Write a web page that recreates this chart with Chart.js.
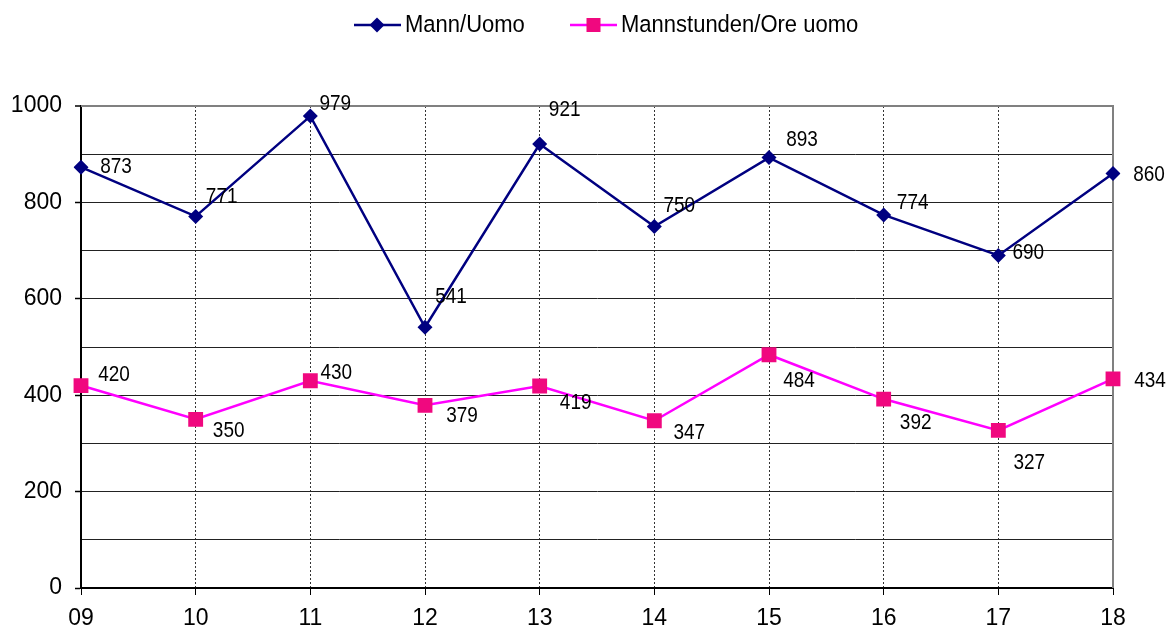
<!DOCTYPE html>
<html>
<head>
<meta charset="utf-8">
<script src="https://cdn.jsdelivr.net/npm/chart.js@4/dist/chart.umd.min.js"></script>
<style>
html,body{margin:0;padding:0;background:#fff;}
canvas{display:block;}
</style>
</head>
<body>
<canvas id="c" width="1169" height="633"></canvas>
<script>
const categories = ['09','10','11','12','13','14','15','16','17','18'];
const seriesNames = ['Mann/Uomo', 'Mannstunden/Ore uomo'];
const mannValues = [873, 771, 979, 541, 921, 750, 893, 774, 690, 860];
const stundenValues = [420, 350, 430, 379, 419, 347, 484, 392, 327, 434];
const yTickLabels = [0, 200, 400, 600, 800, 1000];

// label placement offsets relative to each point (style only)
const mannLabelOffsets = [[35,0],[26,-19],[25,-12],[26,-30],[25,-34],[25,-20],[33,-17],[29,-12],[30,-2],[36,2]];
const stundenLabelOffsets = [[33,-10],[33,12],[26,-8],[37,11],[36,17],[35,12],[30,26],[32,24],[31,33],[37,2]];

const FONT = '"Liberation Sans", Arial, sans-serif';
const BLUE = '#000080';
const PINK_LINE = '#ff00ff';
const PINK_MARK = '#f0087f';

function stretchedText(ctx, text, x, y, sy) {
  ctx.save();
  ctx.translate(x, y);
  ctx.scale(1, sy);
  ctx.fillText(text, 0, 0);
  ctx.restore();
}

const labelPlugin = {
  id: 'valueLabels',
  afterDatasetsDraw(chart) {
    const ctx = chart.ctx;
    ctx.save();
    ctx.font = '19px ' + FONT;
    ctx.fillStyle = '#000';
    ctx.textAlign = 'center';
    ctx.textBaseline = 'middle';
    const offs = [mannLabelOffsets, stundenLabelOffsets];
    chart.data.datasets.forEach((ds, di) => {
      const meta = chart.getDatasetMeta(di);
      meta.data.forEach((pt, i) => {
        const o = offs[di][i];
        stretchedText(ctx, String(ds.data[i]), pt.x + o[0], pt.y + o[1], 1.13);
      });
    });
    ctx.restore();
  }
};

const framePlugin = {
  id: 'frame',
  beforeDatasetsDraw(chart) {
    const {ctx, chartArea: a} = chart;
    ctx.save();
    ctx.strokeStyle = '#808080';
    ctx.lineWidth = 2;
    ctx.beginPath();
    ctx.moveTo(a.left, a.top);
    ctx.lineTo(a.right, a.top);
    ctx.lineTo(a.right, a.bottom);
    ctx.stroke();
    ctx.restore();
  }
};

const legendPlugin = {
  id: 'customLegend',
  afterDraw(chart) {
    const ctx = chart.ctx;
    ctx.save();
    const y = 25;
    ctx.font = '22px ' + FONT;
    ctx.textBaseline = 'middle';
    ctx.textAlign = 'left';
    // item 1
    ctx.strokeStyle = BLUE; ctx.lineWidth = 2.5;
    ctx.beginPath(); ctx.moveTo(354, y); ctx.lineTo(401, y); ctx.stroke();
    ctx.fillStyle = BLUE;
    ctx.beginPath(); ctx.moveTo(377, y-7.5); ctx.lineTo(384.5, y); ctx.lineTo(377, y+7.5); ctx.lineTo(369.5, y); ctx.closePath(); ctx.fill();
    ctx.fillStyle = '#000';
    stretchedText(ctx, seriesNames[0], 405, y+1, 1.07);
    // item 2
    ctx.strokeStyle = PINK_LINE; ctx.lineWidth = 2.5;
    ctx.beginPath(); ctx.moveTo(570, y); ctx.lineTo(617, y); ctx.stroke();
    ctx.fillStyle = PINK_MARK;
    ctx.fillRect(586.5, y-7, 14, 14);
    ctx.fillStyle = '#000';
    stretchedText(ctx, seriesNames[1], 621, y+1, 1.07);
    ctx.restore();
  }
};

new Chart(document.getElementById('c'), {
  type: 'line',
  data: {
    labels: categories,
    datasets: [
      {
        label: seriesNames[0],
        data: mannValues,
        borderColor: BLUE,
        backgroundColor: BLUE,
        borderWidth: 2.5,
        pointStyle: 'rectRot',
        pointRadius: 7.5,
        pointBorderWidth: 0,
        pointBackgroundColor: BLUE,
        tension: 0
      },
      {
        label: seriesNames[1],
        data: stundenValues,
        borderColor: PINK_LINE,
        backgroundColor: PINK_MARK,
        borderWidth: 2.5,
        pointStyle: 'rect',
        pointRadius: 10.5,
        pointBorderWidth: 0,
        pointBackgroundColor: PINK_MARK,
        tension: 0
      }
    ]
  },
  options: {
    responsive: false,
    animation: false,
    events: [],
    layout: { padding: { top: 106, right: 56, left: 0, bottom: 0 } },
    plugins: {
      legend: { display: false },
      tooltip: { enabled: false }
    },
    scales: {
      x: {
        type: 'category',
        offset: false,
        afterFit: s => { s.height = 45; },
        grid: {
          color: c => (c.index === categories.length - 1 ? 'rgba(0,0,0,0)' : '#333'),
          lineWidth: 1,
          tickLength: 7,
          tickColor: '#000',
          tickBorderDash: [],
          drawTicks: true
        },
        border: { display: true, color: '#000', width: 2, dash: [2, 2] },
        ticks: {
          color: '#000',
          font: { family: FONT, size: 23 },
          padding: 10,
          maxRotation: 0,
          autoSkip: false
        }
      },
      y: {
        min: 0,
        max: 1000,
        afterFit: s => { s.width = 81; },
        afterBuildTicks: s => {
          const t = [];
          for (let v = 0; v <= 1000; v += 100) t.push({ value: v });
          s.ticks = t;
        },
        grid: {
          color: c => (c.tick && c.tick.value === 1000 ? '#808080' : '#222'),
          lineWidth: c => (c.tick && c.tick.value === 1000 ? 2 : 1),
          tickLength: 6,
          tickColor: c => (c.tick && yTickLabels.includes(c.tick.value) ? '#000' : 'rgba(0,0,0,0)'),
          tickWidth: 1.5
        },
        border: { display: true, color: '#000', width: 2 },
        ticks: {
          color: '#000',
          font: { family: FONT, size: 23 },
          padding: 13,
          callback: v => (yTickLabels.includes(v) ? String(v) : '')
        }
      }
    }
  },
  plugins: [framePlugin, labelPlugin, legendPlugin]
});
</script>
</body>
</html>
